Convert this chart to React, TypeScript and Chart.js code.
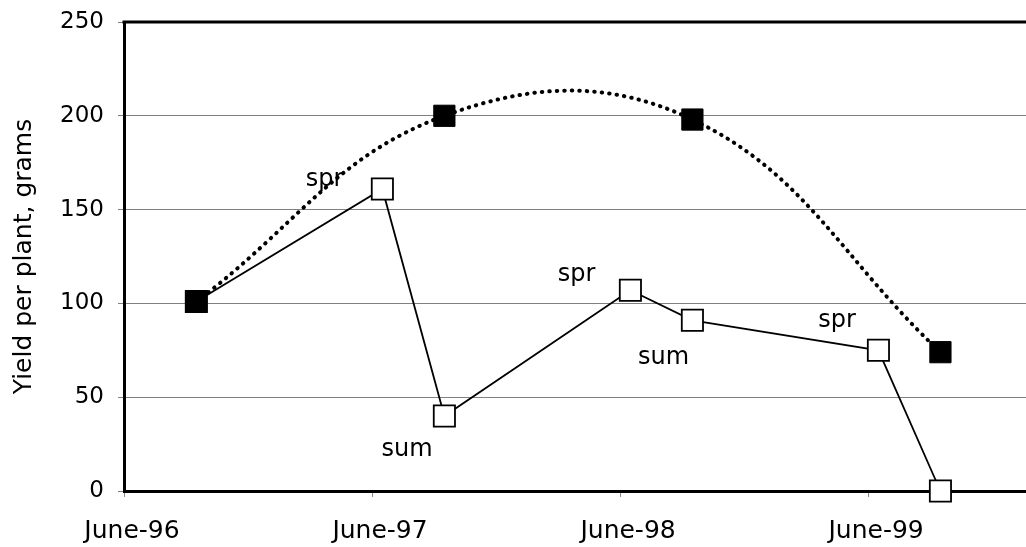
import React, { useEffect, useRef } from "react";
import { Chart, registerables } from "chart.js";

Chart.register(...registerables);

// months after June 1996
const springX = [3.5, 15.5, 27.5, 39.5];
const springY = [101, 200, 198, 74];

const allX = [3.5, 12.5, 15.5, 24.5, 27.5, 36.5, 39.5];
const allY = [101, 161, 40, 107, 91, 75, 0];

const xTickValues = [0, 12, 24, 36];
const xTickLabels = ["June-96", "June-97", "June-98", "June-99"];

const noteText = ["spr", "sum", "spr", "sum", "spr"];
const noteX = [9.7, 13.7, 21.9, 26.1, 34.5];
const noteY = [166, 22, 115, 71, 91];

const FONT = "'DejaVu Sans', sans-serif";

export default function App() {
  const ref = useRef<HTMLCanvasElement | null>(null);

  useEffect(() => {
    if (!ref.current) return;

    const framePlugin = {
      id: "frameTop",
      beforeDatasetsDraw(chart: any) {
        const { ctx, chartArea } = chart;
        ctx.save();
        ctx.strokeStyle = "#000";
        ctx.lineWidth = 3;
        ctx.beginPath();
        ctx.moveTo(chartArea.left - 1.5, chartArea.top);
        ctx.lineTo(chartArea.right, chartArea.top);
        ctx.stroke();
        ctx.restore();
      },
    };

    const notesPlugin = {
      id: "notes",
      afterDatasetsDraw(chart: any) {
        const ctx = chart.ctx;
        const xs = chart.scales.x;
        const ys = chart.scales.y;
        ctx.save();
        ctx.font = `24px ${FONT}`;
        ctx.fillStyle = "#000";
        ctx.textAlign = "center";
        ctx.textBaseline = "middle";
        noteText.forEach((t, i) => {
          ctx.fillText(t, xs.getPixelForValue(noteX[i]), ys.getPixelForValue(noteY[i]));
        });
        ctx.restore();
      },
    };

    const chart = new Chart(ref.current, {
      type: "line",
      data: {
        datasets: [
          {
            label: "spring",
            data: springX.map((x, i) => ({ x, y: springY[i] })),
            borderColor: "#000",
            borderWidth: 4,
            borderDash: [0.5, 7],
            borderCapStyle: "round",
            tension: 0.4,
            pointStyle: "rect",
            pointRadius: 15,
            pointHoverRadius: 15,
            pointBackgroundColor: "#000",
            pointBorderColor: "#000",
            pointBorderWidth: 1,
            clip: false,
          },
          {
            label: "all",
            data: allX.map((x, i) => ({ x, y: allY[i] })),
            borderColor: "#000",
            borderWidth: 1.8,
            tension: 0,
            pointStyle: "rect",
            pointRadius: 15,
            pointHoverRadius: 15,
            pointBackgroundColor: "#fff",
            pointBorderColor: "#000",
            pointBorderWidth: 1.8,
            clip: false,
          },
        ],
      },
      options: {
        animation: false,
        responsive: false,
        events: [],
        layout: { autoPadding: false, padding: { left: 0, right: 0, top: 22, bottom: 0 } },
        plugins: {
          legend: { display: false },
          tooltip: { enabled: false },
        },
        scales: {
          x: {
            type: "linear",
            position: "bottom",
            min: 0,
            max: 43.64,
            afterBuildTicks: (scale: any) => {
              scale.ticks = xTickValues.map((v) => ({ value: v }));
            },
            afterFit: (scale: any) => {
              scale.height = 56;
              scale.paddingLeft = 0;
              scale.paddingRight = 0;
            },
            ticks: {
              callback: (v: any) => {
                const i = xTickValues.indexOf(Number(v));
                return i >= 0 ? xTickLabels[i] : "";
              },
              font: { family: FONT, size: 25 },
              color: "#000",
              padding: 19,
              labelOffset: 8,
              maxRotation: 0,
              autoSkip: false,
            },
            grid: {
              drawOnChartArea: false,
              drawTicks: true,
              tickLength: 6,
              color: "#888",
            },
            border: { display: true, color: "#000", width: 3 },
          },
          y: {
            type: "linear",
            min: 0,
            max: 250,
            afterFit: (scale: any) => {
              scale.width = 124;
              scale.paddingTop = 0;
              scale.paddingBottom = 0;
            },
            ticks: {
              stepSize: 50,
              font: { family: FONT, size: 23 },
              color: "#000",
              padding: 14,
            },
            grid: {
              color: "#808080",
              lineWidth: 1,
              drawTicks: true,
              tickLength: 6,
            },
            border: { display: true, color: "#000", width: 3 },
            title: {
              display: true,
              text: "Yield per plant, grams",
              font: { family: FONT, size: 25 },
              color: "#000",
              padding: { top: 9, bottom: 0 },
            },
          },
        },
      },
      plugins: [framePlugin, notesPlugin],
    } as any);

    return () => chart.destroy();
  }, []);

  return (
    <div style={{ position: "absolute", left: 0, top: 0, width: 1026, height: 547, background: "#fff" }}>
      <canvas ref={ref} width={1026} height={547} />
    </div>
  );
}
